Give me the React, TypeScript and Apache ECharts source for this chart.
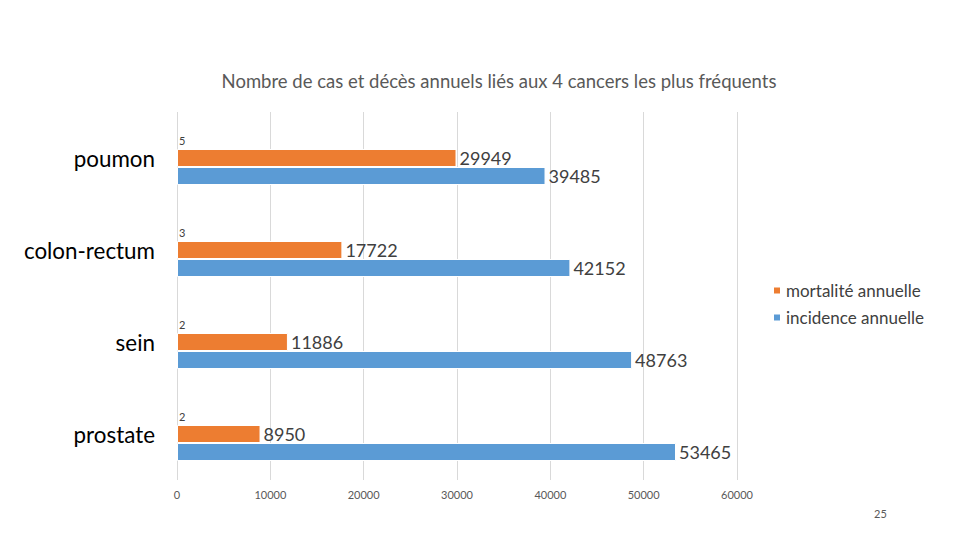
import React, { useEffect, useRef } from "react";
import * as echarts from "echarts";

const categories = ["poumon", "colon-rectum", "sein", "prostate"];
const rangValues = [5, 3, 2, 2];
const mortaliteValues = [29949, 17722, 11886, 8950];
const incidenceValues = [39485, 42152, 48763, 53465];
const xTicks = [0, 10000, 20000, 30000, 40000, 50000, 60000];

const FONT = "Lato, 'Open Sans', sans-serif";

const App: React.FC = () => {
  const chartRef = useRef<HTMLDivElement | null>(null);

  useEffect(() => {
    if (!chartRef.current) return;
    const chart = echarts.init(chartRef.current, undefined, { renderer: "svg" });

    const option = {
      animation: false,
      backgroundColor: "#ffffff",
      title: {
        text: "Nombre de cas et décès annuels liés aux 4 cancers les plus fréquents",
        left: 494,
        textAlign: "center",
        top: 66,
        textStyle: {
          fontFamily: FONT,
          fontSize: 18.5,
          fontWeight: "normal",
          color: "#595959",
        },
      },
      legend: {
        data: ["mortalité annuelle", "incidence annuelle"],
        orient: "vertical",
        left: 767,
        top: 277,
        itemWidth: 8,
        itemHeight: 8,
        itemGap: 10,
        icon: "rect",
        textStyle: {
          fontFamily: FONT,
          fontSize: 17,
          color: "#404040",
        },
      },
      grid: {
        left: 177,
        right: 223,
        top: 112,
        bottom: 60,
        containLabel: false,
      },
      xAxis: {
        type: "value",
        min: xTicks[0],
        max: xTicks[xTicks.length - 1],
        interval: 10000,
        axisLine: { show: false },
        axisTick: { show: false },
        axisLabel: {
          fontFamily: FONT,
          fontSize: 11,
          color: "#595959",
          margin: 9,
          formatter: (v: number) => String(v),
        },
        splitLine: { show: true, lineStyle: { color: "#d9d9d9", width: 1 } },
      },
      yAxis: {
        type: "category",
        data: categories,
        inverse: true,
        axisLine: { show: false },
        axisTick: { show: false },
        axisLabel: {
          fontFamily: FONT,
          fontSize: 22.4,
          color: "#000000",
          margin: 22,
        },
      },
      series: [
        {
          name: "rang",
          type: "bar",
          data: rangValues,
          barWidth: 18,
          barGap: "0%",
          itemStyle: { color: "rgba(0,0,0,0)" },
          label: {
            show: true,
            position: "right",
            distance: 2,
            fontFamily: FONT,
            fontSize: 11,
            color: "#404040",
          },
        },
        {
          name: "mortalité annuelle",
          type: "bar",
          data: mortaliteValues,
          barWidth: 18,
          barGap: "0%",
          itemStyle: { color: "#ed7d31", borderColor: "#ffffff", borderWidth: 1 },
          label: {
            show: true,
            position: "right",
            distance: 3,
            fontFamily: FONT,
            fontSize: 18,
            color: "#404040",
          },
        },
        {
          name: "incidence annuelle",
          type: "bar",
          data: incidenceValues,
          barWidth: 18,
          barGap: "0%",
          itemStyle: { color: "#5b9bd5", borderColor: "#ffffff", borderWidth: 1 },
          label: {
            show: true,
            position: "right",
            distance: 3,
            fontFamily: FONT,
            fontSize: 18,
            color: "#404040",
          },
        },
      ],
      graphic: [
        {
          type: "text",
          left: 874,
          top: 508,
          style: {
            text: "25",
            fontFamily: FONT,
            fontSize: 11,
            fill: "#595959",
          },
        },
      ],
    };

    chart.setOption(option);
    return () => {
      chart.dispose();
    };
  }, []);

  return (
    <div
      ref={chartRef}
      style={{ position: "fixed", left: 0, top: 0, width: 960, height: 540 }}
    />
  );
};

export default App;
